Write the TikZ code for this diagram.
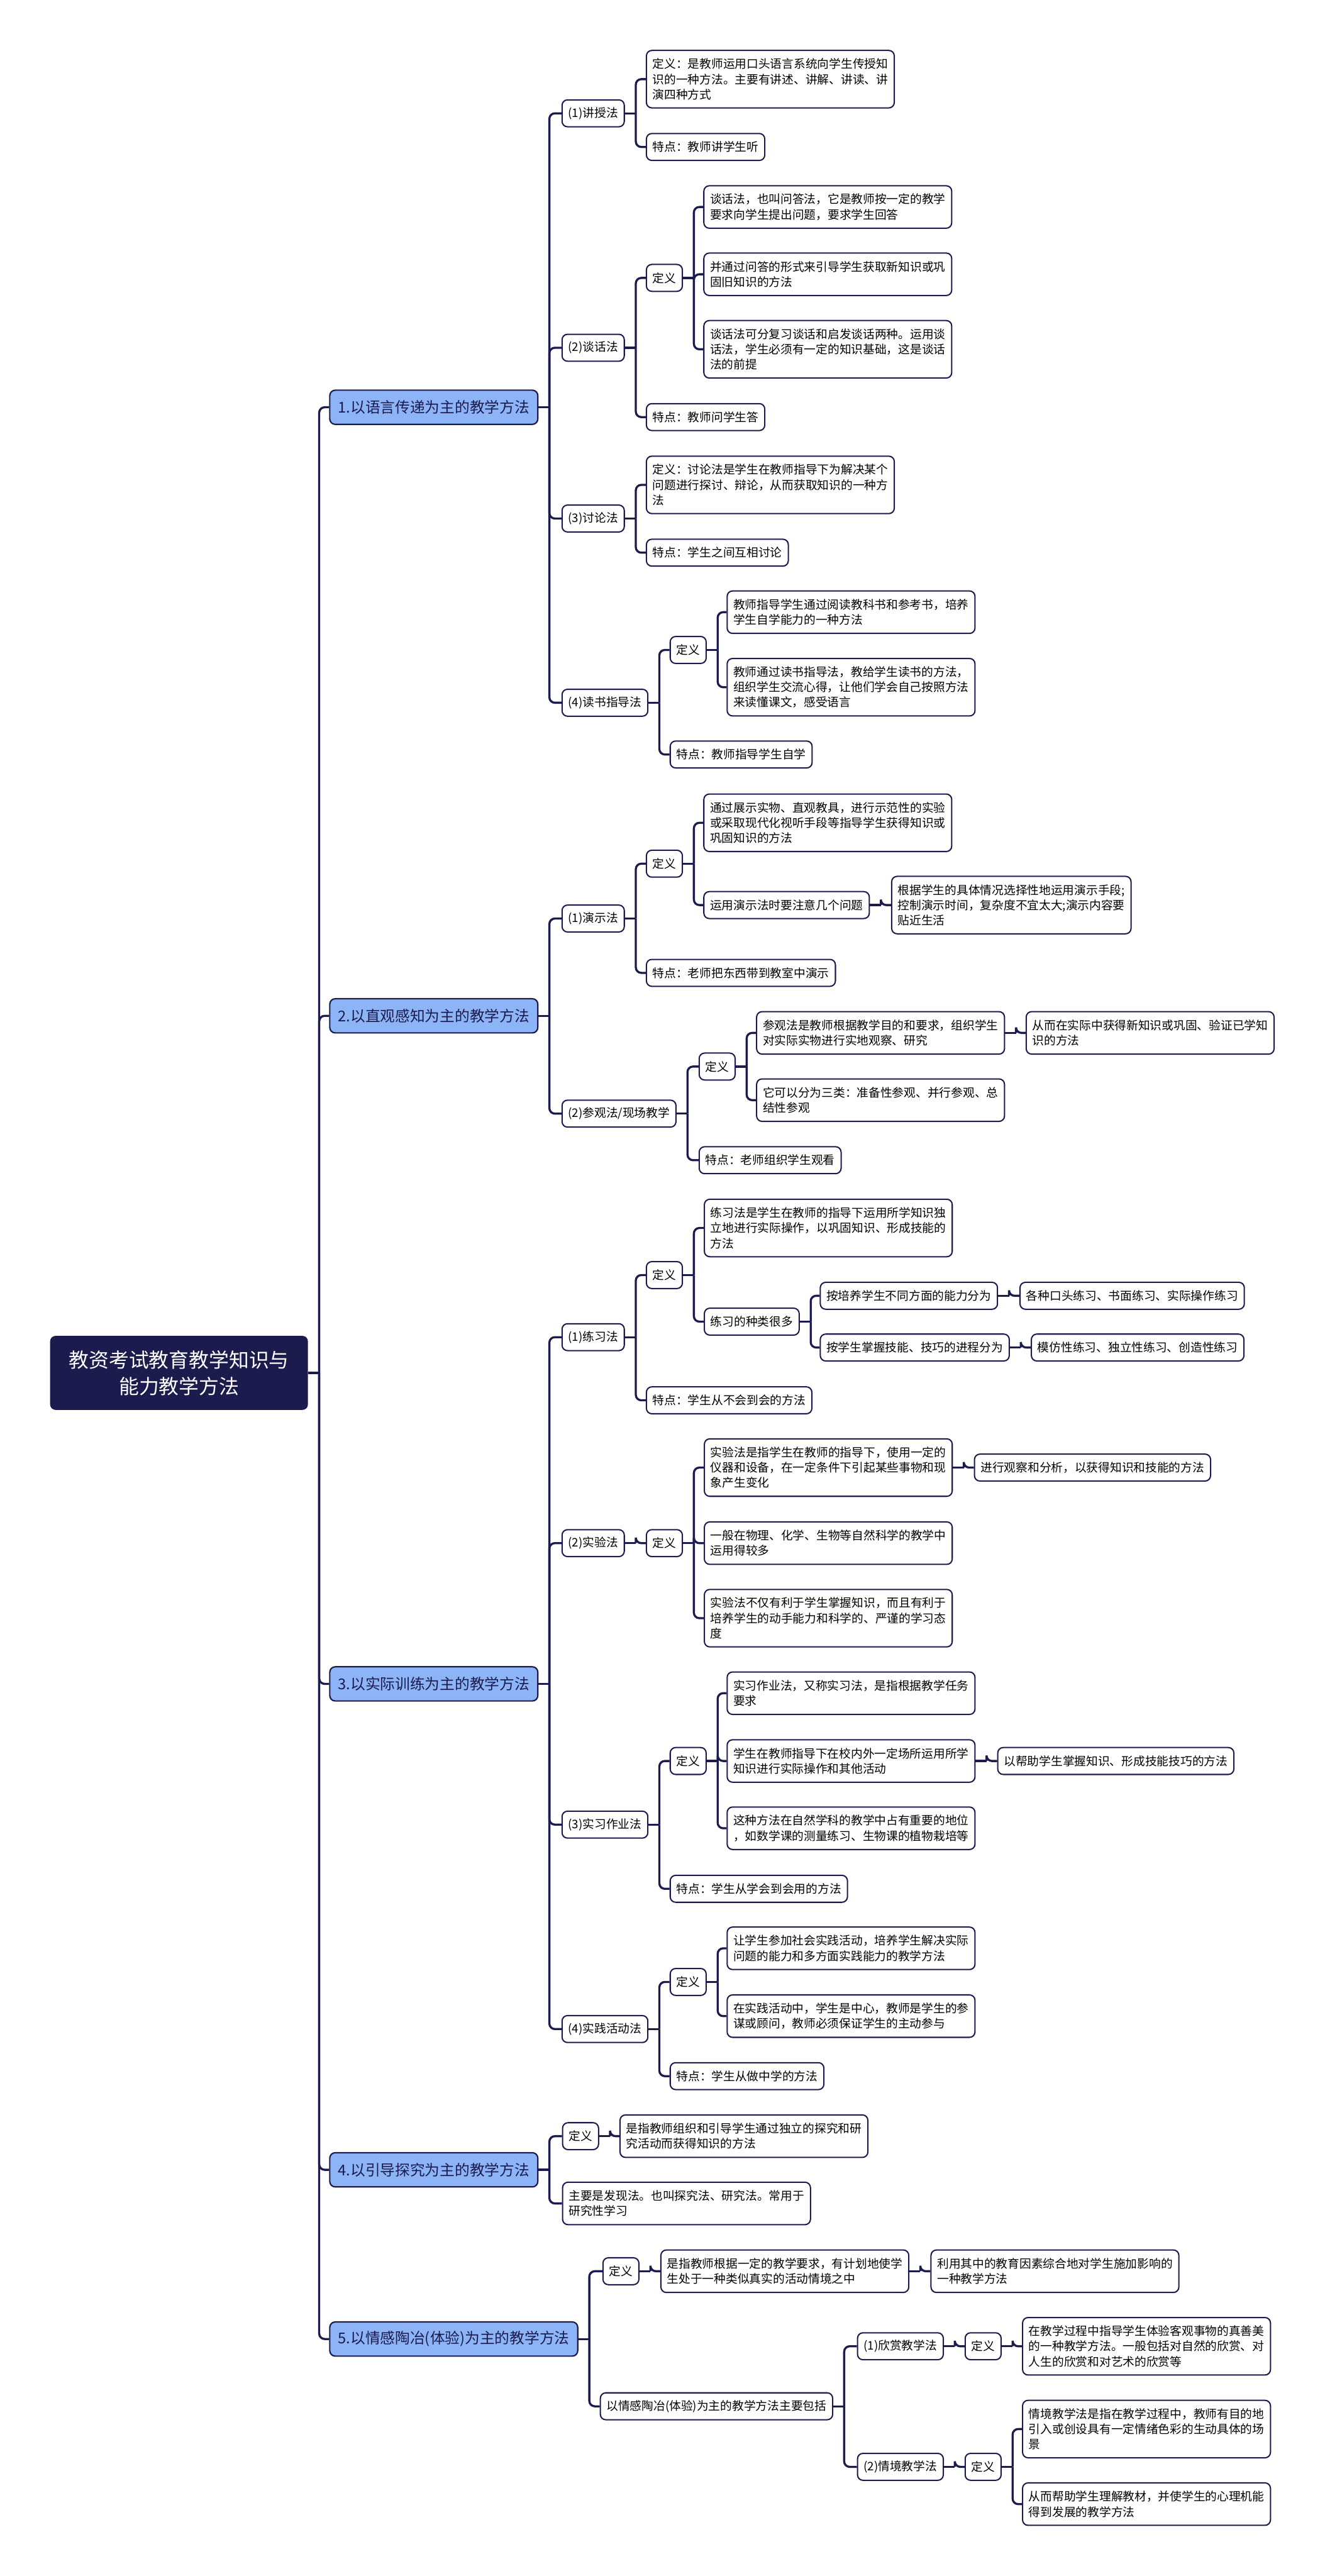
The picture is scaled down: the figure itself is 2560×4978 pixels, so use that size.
\documentclass[tikz,border=0pt]{standalone}
\usepackage{fontspec}
\setmainfont{Noto Sans CJK SC}
\definecolor{navy}{HTML}{1C1B4E}
\definecolor{lblue}{HTML}{8DB4F7}
\tikzset{
  box/.style={draw=navy, line width=0.7pt, rounded corners=3pt, fill=white, align=left, inner xsep=0.12cm, inner ysep=0.05cm, font=\fontsize{6.47pt}{8.4pt}\selectfont, anchor=west, text=black},
  one/.style={box, minimum height=0.52cm},
  two/.style={box, minimum height=0.82cm},
  three/.style={box, minimum height=1.11cm},
  lvl/.style={draw=navy, fill=lblue, line width=0.75pt, rounded corners=3pt, minimum height=0.66cm, inner xsep=0.16cm, font=\fontsize{8.2pt}{10pt}\selectfont, anchor=west, text=navy},
  rootn/.style={fill=navy, text=white, rounded corners=3pt, minimum width=4.98cm, minimum height=1.43cm, align=center, font=\fontsize{11pt}{14.5pt}\selectfont},
  conn/.style={draw=navy, line width=1.15pt, rounded corners=3pt},
}
\newcommand\linkto[2]{%
  \draw[conn] (#1.east) -- ([xshift=0.21cm]#1.east);
  \foreach \cc in {#2}{\draw[conn] ([xshift=0.21cm]#1.east) |- (\cc.west);}%
}
\begin{document}
\begin{tikzpicture}[x=0.01cm,y=-0.01cm]
\fill[white] (0,0) rectangle (2560,4978);
\useasboundingbox (0,0) rectangle (2560,4978);

\node[rootn] (root) at (346,2653) {教资考试教育教学知识与\\能力教学方法};

\node[lvl] (n1) at (636,787) {1.以语言传递为主的教学方法};
\node[lvl] (n2) at (636,1963) {2.以直观感知为主的教学方法};
\node[lvl] (n3) at (636,3254) {3.以实际训练为主的教学方法};
\node[lvl] (n4) at (636,4193) {4.以引导探究为主的教学方法};
\node[lvl] (n5) at (636,4520) {5.以情感陶冶(体验)为主的教学方法};

% group 1
\node[one] (a1) at (1085,219) {(1)讲授法};
\node[three] (a1d) at (1248,153) {定义：是教师运用口头语言系统向学生传授知\\识的一种方法。主要有讲述、讲解、讲读、讲\\演四种方式};
\node[one] (a1t) at (1248,284) {特点：教师讲学生听};
\node[one] (a2) at (1085,672) {(2)谈话法};
\node[one] (a2d) at (1248,537) {定义};
\node[two] (a2d1) at (1359,400) {谈话法，也叫问答法，它是教师按一定的教学\\要求向学生提出问题，要求学生回答};
\node[two] (a2d2) at (1359,530) {并通过问答的形式来引导学生获取新知识或巩\\固旧知识的方法};
\node[three] (a2d3) at (1359,675) {谈话法可分复习谈话和启发谈话两种。运用谈\\话法，学生必须有一定的知识基础，这是谈话\\法的前提};
\node[one] (a2t) at (1248,806) {特点：教师问学生答};
\node[one] (a3) at (1085,1002) {(3)讨论法};
\node[three] (a3d) at (1248,937) {定义：讨论法是学生在教师指导下为解决某个\\问题进行探讨、辩论，从而获取知识的一种方\\法};
\node[one] (a3t) at (1248,1068) {特点：学生之间互相讨论};
\node[one] (a4) at (1085,1358) {(4)读书指导法};
\node[one] (a4d) at (1294,1256) {定义};
\node[two] (a4d1) at (1404,1183) {教师指导学生通过阅读教科书和参考书，培养\\学生自学能力的一种方法};
\node[three] (a4d2) at (1404,1328) {教师通过读书指导法，教给学生读书的方法，\\组织学生交流心得，让他们学会自己按照方法\\来读懂课文，感受语言};
\node[one] (a4t) at (1294,1458) {特点：教师指导学生自学};

% group 2
\node[one] (b1) at (1085,1775) {(1)演示法};
\node[one] (b1d) at (1248,1669) {定义};
\node[three] (b1d1) at (1359,1590) {通过展示实物、直观教具，进行示范性的实验\\或采取现代化视听手段等指导学生获得知识或\\巩固知识的方法};
\node[one] (b1d2) at (1359,1749) {运用演示法时要注意几个问题};
\node[three] (b1d2a) at (1722,1749) {根据学生的具体情况选择性地运用演示手段;\\控制演示时间，复杂度不宜太大;演示内容要\\贴近生活};
\node[one] (b1t) at (1248,1880) {特点：老师把东西带到教室中演示};
\node[one] (b2) at (1085,2152) {(2)参观法/现场教学};
\node[one] (b2d) at (1350,2061) {定义};
\node[two] (b2d1) at (1461,1996) {参观法是教师根据教学目的和要求，组织学生\\对实际实物进行实地观察、研究};
\node[two] (b2d1a) at (1982,1996) {从而在实际中获得新知识或巩固、验证已学知\\识的方法};
\node[two] (b2d2) at (1461,2126) {它可以分为三类：准备性参观、并行参观、总\\结性参观};
\node[one] (b2t) at (1350,2242) {特点：老师组织学生观看};

% group 3
\node[one] (c1) at (1085,2584) {(1)练习法};
\node[one] (c1d) at (1248,2464) {定义};
\node[three] (c1d1) at (1360,2373) {练习法是学生在教师的指导下运用所学知识独\\立地进行实际操作，以巩固知识、形成技能的\\方法};
\node[one] (c1d2) at (1360,2554) {练习的种类很多};
\node[one] (c1d2a) at (1584,2504) {按培养学生不同方面的能力分为};
\node[one] (c1d2aa) at (1970,2504) {各种口头练习、书面练习、实际操作练习};
\node[one] (c1d2b) at (1584,2604) {按学生掌握技能、技巧的进程分为};
\node[one] (c1d2bb) at (1992,2604) {模仿性练习、独立性练习、创造性练习};
\node[one] (c1t) at (1248,2706) {特点：学生从不会到会的方法};
\node[one] (c2) at (1085,2982) {(2)实验法};
\node[one] (c2d) at (1248,2982) {定义};
\node[three] (c2d1) at (1360,2836) {实验法是指学生在教师的指导下，使用一定的\\仪器和设备，在一定条件下引起某些事物和现\\象产生变化};
\node[one] (c2d1a) at (1882,2836) {进行观察和分析，以获得知识和技能的方法};
\node[two] (c2d2) at (1360,2982) {一般在物理、化学、生物等自然科学的教学中\\运用得较多};
\node[three] (c2d3) at (1360,3127) {实验法不仅有利于学生掌握知识，而且有利于\\培养学生的动手能力和科学的、严谨的学习态\\度};
\node[one] (c3) at (1085,3526) {(3)实习作业法};
\node[one] (c3d) at (1294,3403) {定义};
\node[two] (c3d1) at (1404,3272) {实习作业法，又称实习法，是指根据教学任务\\要求};
\node[two] (c3d2) at (1404,3403) {学生在教师指导下在校内外一定场所运用所学\\知识进行实际操作和其他活动};
\node[one] (c3d2a) at (1927,3403) {以帮助学生掌握知识、形成技能技巧的方法};
\node[two] (c3d3) at (1404,3533) {这种方法在自然学科的教学中占有重要的地位\\，如数学课的测量练习、生物课的植物栽培等};
\node[one] (c3t) at (1294,3650) {特点：学生从学会到会用的方法};
\node[one] (c4) at (1085,3921) {(4)实践活动法};
\node[one] (c4d) at (1294,3830) {定义};
\node[two] (c4d1) at (1404,3765) {让学生参加社会实践活动，培养学生解决实际\\问题的能力和多方面实践能力的教学方法};
\node[two] (c4d2) at (1404,3896) {在实践活动中，学生是中心，教师是学生的参\\谋或顾问，教师必须保证学生的主动参与};
\node[one] (c4t) at (1294,4012) {特点：学生从做中学的方法};

% group 4
\node[one] (d1) at (1086,4128) {定义};
\node[two] (d1a) at (1197,4128) {是指教师组织和引导学生通过独立的探究和研\\究活动而获得知识的方法};
\node[two] (d2) at (1086,4258) {主要是发现法。也叫探究法、研究法。常用于\\研究性学习};

% group 5
\node[one] (e1) at (1164,4389) {定义};
\node[two] (e1a) at (1276,4389) {是指教师根据一定的教学要求，有计划地使学\\生处于一种类似真实的活动情境之中};
\node[two] (e1aa) at (1798,4389) {利用其中的教育因素综合地对学生施加影响的\\一种教学方法};
\node[one] (e2) at (1159,4650) {以情感陶冶(体验)为主的教学方法主要包括};
\node[one] (e2a) at (1656,4534) {(1)欣赏教学法};
\node[one] (e2ad) at (1864,4534) {定义};
\node[three] (e2ada) at (1975,4534) {在教学过程中指导学生体验客观事物的真善美\\的一种教学方法。一般包括对自然的欣赏、对\\人生的欣赏和对艺术的欣赏等};
\node[one] (e2b) at (1656,4767) {(2)情境教学法};
\node[one] (e2bd) at (1864,4767) {定义};
\node[three] (e2bd1) at (1975,4694) {情境教学法是指在教学过程中，教师有目的地\\引入或创设具有一定情绪色彩的生动具体的场\\景};
\node[two] (e2bd2) at (1975,4839) {从而帮助学生理解教材，并使学生的心理机能\\得到发展的教学方法};

% connectors
\linkto{root}{n1,n2,n3,n4,n5}
\linkto{n1}{a1,a2,a3,a4}
\linkto{a1}{a1d,a1t}
\linkto{a2}{a2d,a2t}
\linkto{a2d}{a2d1,a2d2,a2d3}
\linkto{a3}{a3d,a3t}
\linkto{a4}{a4d,a4t}
\linkto{a4d}{a4d1,a4d2}
\linkto{n2}{b1,b2}
\linkto{b1}{b1d,b1t}
\linkto{b1d}{b1d1,b1d2}
\linkto{b1d2}{b1d2a}
\linkto{b2}{b2d,b2t}
\linkto{b2d}{b2d1,b2d2}
\linkto{b2d1}{b2d1a}
\linkto{n3}{c1,c2,c3,c4}
\linkto{c1}{c1d,c1t}
\linkto{c1d}{c1d1,c1d2}
\linkto{c1d2}{c1d2a,c1d2b}
\linkto{c1d2a}{c1d2aa}
\linkto{c1d2b}{c1d2bb}
\linkto{c2}{c2d}
\linkto{c2d}{c2d1,c2d2,c2d3}
\linkto{c2d1}{c2d1a}
\linkto{c3}{c3d,c3t}
\linkto{c3d}{c3d1,c3d2,c3d3}
\linkto{c3d2}{c3d2a}
\linkto{c4}{c4d,c4t}
\linkto{c4d}{c4d1,c4d2}
\linkto{n4}{d1,d2}
\linkto{d1}{d1a}
\linkto{n5}{e1,e2}
\linkto{e1}{e1a}
\linkto{e1a}{e1aa}
\linkto{e2}{e2a,e2b}
\linkto{e2a}{e2ad}
\linkto{e2ad}{e2ada}
\linkto{e2b}{e2bd}
\linkto{e2bd}{e2bd1,e2bd2}
\end{tikzpicture}
\end{document}
